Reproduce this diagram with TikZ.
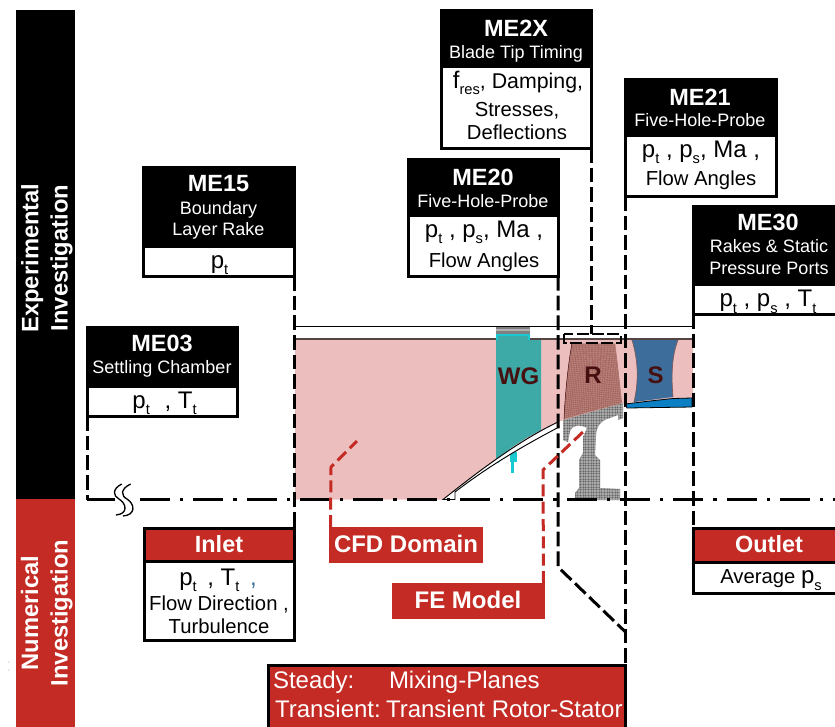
\documentclass[tikz,border=0pt]{standalone}
\usepackage{fontspec}
\setmainfont{Liberation Sans}
\usetikzlibrary{fit}
\definecolor{rd}{HTML}{C32B24}
\definecolor{pinkdom}{HTML}{EDBEBE}
\definecolor{teal2}{HTML}{3DAAA8}
\definecolor{cyan2}{HTML}{19C9D2}
\definecolor{rotor}{HTML}{A5635C}
\definecolor{stator}{HTML}{3D6E9B}
\definecolor{band}{HTML}{0A7FC4}
\definecolor{darktxt}{HTML}{471010}
\definecolor{discgray}{HTML}{666666}
\newcommand\sbs[1]{\raisebox{-0.55ex}{\fontsize{11}{12}\selectfont #1}}
\tikzset{
 every node/.style={inner sep=0pt,outer sep=0pt},
 base/.style={anchor=base,align=center},
 titletxt/.style={base,white,font=\fontsize{17.6}{20}\selectfont\bfseries},
 subtxt/.style={base,white,yshift=-0.4pt,font=\fontsize{13.5}{16}\selectfont},
 valtxt/.style={base,black,yshift=-0.5pt,font=\fontsize{15.2}{18}\selectfont},
 bigval/.style={base,black,font=\fontsize{18}{20}\selectfont},
 redtxt/.style={base,white,font=\fontsize{18}{20}\selectfont\bfseries},
 sidetxt/.style={anchor=base,rotate=90,white,font=\fontsize{17.8}{20}\selectfont\bfseries},
 steadytxt/.style={anchor=base west,white,font=\fontsize{18}{20}\selectfont},
 parttxt/.style={base,darktxt,font=\fontsize{18}{20}\selectfont\bfseries},
 meas/.style={black,line width=2.25pt,dash pattern=on 11pt off 3.75pt},
 redline/.style={rd,line width=2.25pt,dash pattern=on 9pt off 4pt},
 axisline/.style={black,line width=1.6pt,dash pattern=on 22.5pt off 7.5pt on 2.5pt off 7.5pt},
 boxbody/.style={draw=black,line width=2.25pt,fill=white},
 boxhead/.style={draw=black,line width=2.25pt},
}
% name x1 y1 x2 y2 ysplit colour
\newcommand\measbox[7]{%
 \node[boxbody,fit={(#2,#3)(#4,#5)}] (#1) {};
 \node[boxhead,fill=#7,fit={(#2,#3)(#4,#6)}] (#1h) {};
}
\begin{document}
\begin{tikzpicture}[x=0.75pt,y=-0.75pt]
\useasboundingbox (0,0) rectangle (835,726);
\clip (0,0) rectangle (835,726);
% side bars
\node[fill=black,fit={(16,10)(75,499)}] (expbar) {};
\node[fill=rd,fit={(16,499)(75,730)}] (numbar) {};
\node[sidetxt] (exp1) at (38.5,258) {Experimental};
\node[sidetxt] (exp2) at (67.7,258) {Investigation};
\node[sidetxt] (num1) at (38,613) {Numerical};
\node[sidetxt] (num2) at (67.7,613) {Investigation};
\fill (9,662) circle (0.4) (9,670) circle (0.4);
% domain
\fill[pinkdom] (295,339) -- (693,339) -- (693,398) -- (625,403) -- (564,420) -- (558,422)
  .. controls (520,440) and (480,470) .. (443,499.5) -- (295,499.5) -- cycle;
\draw[black,line width=0.8pt] (295,326.5) -- (693,326.5);
\draw[black!50!pinkdom!70!black,line width=1.2pt] (295,339) -- (693,339);
% guide vane
\fill[teal2] (496,340) -- (541,340) -- (541,430) .. controls (525,438) and (510,448) .. (496,459) -- cycle;
\fill[gray] (496,327) rectangle (530,334);
\fill[gray!60] (496,329) rectangle (530,331);
\fill[cyan2] (496,334) rectangle (530,340);
\fill[teal2] (498,336) rectangle (528,340);
\fill[cyan2] (496,459) -- (510,449) -- (514,449) -- (498,463) -- cycle;
\fill[cyan2] (510,452) rectangle (517,462);
\fill[cyan2] (511,462) rectangle (514,473);
% hub cavity
\draw[black,line width=0.7pt,fill=white] (443,499.5) .. controls (480,470) and (520,440) .. (558,422)
  -- (559,427) .. controls (525,445) and (490,465) .. (455,492) -- (455,499.5) -- cycle;
% stator
\fill[stator] (632,340) .. controls (638,360) and (639,380) .. (634,402) -- (673,397)
  .. controls (671,375) and (672,355) .. (678,340) -- cycle;
\draw[darktxt!70,line width=0.5pt] (632,340) .. controls (638,360) and (639,380) .. (634,402);
\draw[darktxt!70,line width=0.5pt] (673,397) .. controls (671,375) and (672,355) .. (678,340);
\draw[black,line width=0.6pt,fill=band] (625,404) -- (650,401) -- (673,398.5) -- (692,398) -- (692,407) -- (627,408) -- cycle;
% rotor blade with mesh
\begin{scope}
\clip (572,343) .. controls (568,365) and (565,395) .. (564,419) -- (622,403) .. controls (620,385) and (618,365) .. (615,343) -- cycle;
\fill[rotor] (560,340) rectangle (625,425);
\foreach \i in {0,...,30} {\draw[rotor!65!white,line width=0.15pt] ({572+\i*43/30},343) -- ({563+\i*60/30},420);}
\foreach \j in {0,...,40} {\draw[rotor!65!white,line width=0.15pt] (560,{343+\j*2}) -- (625,{343+\j*2-\j*0.2});}
\end{scope}
\draw[darktxt,line width=0.4pt] (572,343) .. controls (568,365) and (565,395) .. (564,419);
% disc with mesh
\begin{scope}
\clip (563,420) -- (623,403) -- (623,418) -- (618,420) -- (618,415) -- (607,419)
  .. controls (599,422) and (596,428) .. (596,436) -- (595,455) -- (600,460) -- (600,488) -- (620,489) -- (620,500)
  -- (575,500) -- (575,493) -- (579,488) -- (579,460) -- (583,453) -- (583,437) -- (587,428)
  .. controls (580,424) and (572,425) .. (570,431) -- (568,442) -- (563,440) -- cycle;
\fill[discgray] (555,400) rectangle (630,505);
\foreach \i in {0,...,46} {\draw[white,opacity=0.25,line width=0.15pt] ({560+\i*1.6},400) -- ({560+\i*1.6},505);}
\foreach \j in {0,...,65} {\draw[white,opacity=0.25,line width=0.15pt] (555,{400+\j*1.6}) -- (630,{400+\j*1.6});}
\end{scope}
% part labels
\node[parttxt] (wg) at (518.5,384) {WG};
\node[parttxt] (rlabel) at (593,383) {R};
\node[parttxt] (slabel) at (655.5,383) {S};
% measurement boxes
\measbox{me15}{143.5}{167.5}{294}{276}{246}{black}
\measbox{me03}{87}{327}{237.5}{416}{386}{black}
\measbox{me2x}{441}{10}{591.5}{148}{66}{black}
\measbox{me20}{408}{159}{558}{276}{215}{black}
\measbox{me21}{625.5}{79}{776}{196}{135}{black}
\measbox{me30}{693.5}{206}{850}{314}{284}{black}
\measbox{inlet}{144}{528}{294}{640}{561}{rd}
\measbox{outlet}{693.5}{528}{850}{593}{562}{rd}
\node[fill=rd,fit={(329,527)(483,563)}] (cfd) {};
\node[fill=rd,fit={(391.5,583)(545,619)}] (fe) {};
\node[draw=black,line width=2.25pt,fill=rd,fit={(268,665)(625.5,735)}] (solver) {};
% box texts
\node[titletxt] (t15) at (218.5,191.7) {ME15};
\node[subtxt] (s15a) at (218.5,214) {Boundary};
\node[subtxt] (s15b) at (218.5,235) {Layer Rake};
\node[bigval] (v15) at (219.5,268) {p\sbs{t}};
\node[titletxt] (t03) at (162,351.7) {ME03};
\node[subtxt] (s03) at (162,372.7) {Settling Chamber};
\node[bigval] (v03) at (164.5,408) {p\sbs{t}\,\, , T\sbs{t}};
\node[titletxt] (t2x) at (516,36) {ME2X};
\node[subtxt] (s2x) at (516,58) {Blade Tip Timing};
\node[bigval] (v2xa) at (518,88) {f\sbs{res}{\fontsize{16}{18}\selectfont, Damping,}};
\node[valtxt] (v2xb) at (517,116) {Stresses,};
\node[valtxt] (v2xc) at (517,139) {Deflections};
\node[titletxt] (t20) at (483,185) {ME20};
\node[subtxt] (s20) at (483,206.7) {Five-Hole-Probe};
\node[bigval] (v20a) at (484,237) {p\sbs{t} , p\sbs{s}, Ma ,};
\node[valtxt] (v20b) at (484,266.7) {Flow Angles};
\node[titletxt] (t21) at (700,105) {ME21};
\node[subtxt] (s21) at (700,126) {Five-Hole-Probe};
\node[bigval] (v21a) at (701,157) {p\sbs{t} , p\sbs{s}, Ma ,};
\node[valtxt] (v21b) at (701,185) {Flow Angles};
\node[titletxt] (t30) at (768,230.7) {ME30};
\node[subtxt] (s30a) at (769,251.7) {Rakes \& Static};
\node[subtxt] (s30b) at (769,274) {Pressure Ports};
\node[bigval] (v30) at (768,306.7) {p\sbs{t} , p\sbs{s} , T\sbs{t}};
\node[titletxt] (tin) at (219,552.7) {Inlet};
\node[bigval] (vina) at (218,585) {p\sbs{t}\, , T\sbs{t}\, \textcolor{stator}{,}};
\node[valtxt] (vinb) at (219,610) {Flow Direction ,};
\node[valtxt] (vinc) at (219,633) {Turbulence};
\node[titletxt] (tout) at (769,552.3) {Outlet};
\node[valtxt] (vout) at (771,582.7) {Average \fontsize{18}{20}\selectfont p\sbs{s}};
\node[redtxt] (tcfd) at (406,552) {CFD Domain};
\node[redtxt] (tfe) at (468,608) {FE Model};
\node[steadytxt] (st1) at (273,688) {Steady:};
\node[steadytxt] (st2) at (389,688) {Mixing-Planes};
\node[steadytxt] (st3) at (275,717) {Transient:};
\node[steadytxt] (st4) at (386,717) {Transient Rotor-Stator};
% axis and break
\coordinate (axisL) at (115,499.5);
\coordinate (axisR) at (140,499.5);
\coordinate (axisE) at (835,499.5);
\coordinate (corner) at (87,499.5);
\draw[axisline] (axisR) -- (axisE);
\draw[black,line width=1.6pt] (corner) -- (axisL);
\draw[black,line width=1pt] (121.7,484) .. controls (112,489) and (113,496) .. (119,499) .. controls (127,504) and (128,514) .. (116,515);
\draw[black,line width=1pt] (130.7,484) .. controls (120,489) and (121,496) .. (127,499) .. controls (135,504) and (136,515) .. (123,516);
% measurement connectors
\coordinate (bend) at (558,567);
\coordinate (m2xend) at (591.5,334);
\coordinate (rtl) at (564,334);
\coordinate (rbr) at (621,343);
\coordinate (diagend) at (625.5,632);
\draw[meas] (me03.south west) -- (corner);
\draw[meas] (me15.south east) -- (inlet.north east);
\draw[meas] (me20.south east) -- (bend) -- (diagend);
\draw[meas] (me2x.south east) -- (m2xend);
\draw[meas] (me21.south west) -- (solver.north east);
\draw[meas] (me30.south west) -- (outlet.north west);
\draw[black,line width=2pt,dash pattern=on 9pt off 2.5pt] (rtl) rectangle (rbr);
% red leaders
\coordinate (cfdbend) at (331,467);
\coordinate (cfdend) at (357,441);
\coordinate (febend) at (543,470);
\coordinate (feend) at (585,430);
\draw[redline] (cfd.north west) ++(1.5,0) -- (cfdbend) -- (cfdend);
\draw[redline] (fe.north east) ++(-1.5,0) -- (febend) -- (feend);
\end{tikzpicture}
\end{document}
